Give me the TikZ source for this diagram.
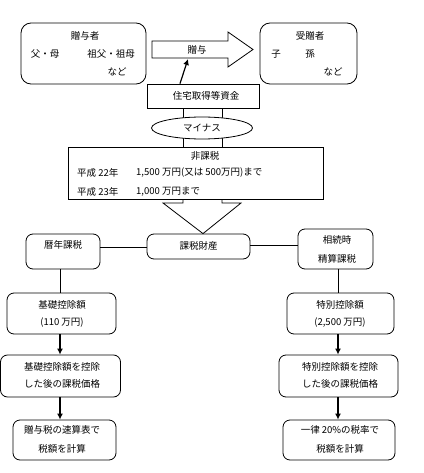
\documentclass[tikz,border=0pt]{standalone}
\usepackage{fontspec}
\setmainfont{Noto Sans CJK JP}
\usetikzlibrary{arrows.meta, shapes.geometric}

\tikzset{
  box/.style={draw, line width=0.8pt, rounded corners=7pt, inner sep=0pt},
  sqbox/.style={draw, line width=0.8pt, inner sep=0pt, fill=white},
  txt/.style={inner sep=0pt, font=\fontsize{9.5}{11}\selectfont},
  flow/.style={-{Latex[length=6pt,width=6pt]}, line width=1.6pt},
  link/.style={line width=0.8pt}
}

\begin{document}
\begin{tikzpicture}[x=1pt, y=-1pt]
  \useasboundingbox (0,0) rectangle (423,473);

  % donor and recipient
  \node[box, rounded corners=10pt, minimum width=125pt, minimum height=61pt] (donor) at (83.5,53.5) {};
  \node[txt] at (85,36) {贈与者};
  \node[txt] at (45,54) {父・母};
  \node[txt] at (111,54) {祖父・祖母};
  \node[txt] at (117,72) {など};

  \node[box, rounded corners=10pt, minimum width=97pt, minimum height=61pt] (donee) at (308.5,53.5) {};
  \node[txt] at (310,36) {受贈者};
  \node[txt] at (276,54) {子};
  \node[txt] at (310,54) {孫};
  \node[txt] at (333,72) {など};

  % gift arrow
  \draw[line width=0.8pt] (152,41) -- (228,41) -- (228,32) -- (253,49.5) -- (228,67) -- (228,58) -- (152,58) -- cycle;
  \node[txt] (gift) at (197,49.5) {贈与};
  \coordinate (giftin) at (188,59);

  % fund
  \node[sqbox, minimum width=112pt, minimum height=24pt] (fund) at (203,96) {};
  \node[txt] at (206,96) {住宅取得等資金};
  \draw[flow, line width=1.2pt] (fund.north -| 180,0) -- (giftin);

  % shaft through minus and nontax
  \draw[link] (fund.south -| 183,0) -- (183,147);
  \draw[link] (fund.south -| 222,0) -- (222,147);
  \node[draw, ellipse, line width=0.8pt, fill=white, minimum width=101pt, minimum height=22pt, inner sep=0pt] (minus) at (202,128) {};
  \node[txt] at (202,128) {マイナス};

  \node[sqbox, minimum width=255pt, minimum height=52pt] (nontax) at (195.5,173) {};
  \node[txt] at (205,156) {非課税};
  \node[txt, anchor=west] at (77,173) {平成 22年};
  \node[txt, anchor=west] at (136,173) {1,500 万円(又は 500万円)まで};
  \node[txt, anchor=west] at (77,192) {平成 23年};
  \node[txt, anchor=west] at (136,192) {1,000 万円まで};

  % taxable property
  \node[box, minimum width=103pt, minimum height=25pt] (taxable) at (198.5,246.5) {};
  \node[txt] at (198.5,246) {課税財産};
  \draw[link] (nontax.south -| 183,0) -- (183,203) -- (163,203) -- (taxable.north -| 203,0) -- (241,203) -- (222,203) -- (nontax.south -| 222,0);

  \node[box, minimum width=74pt, minimum height=35pt] (calendar) at (63,251.5) {};
  \node[txt] at (63,245) {暦年課税};
  \node[box, minimum width=75pt, minimum height=40pt] (settle) at (335.5,249) {};
  \node[txt] at (337,240) {相続時};
  \node[txt] at (337,259) {精算課税};
  \draw[link] (calendar.east |- 0,247) -- (taxable.west |- 0,247);
  \draw[link] (taxable.east |- 0,245) -- (settle.west |- 0,245);

  % left column
  \node[box, minimum width=109pt, minimum height=41pt] (basic) at (61.5,313.5) {};
  \node[txt] at (62,305) {基礎控除額};
  \node[txt] at (62,323) {(110 万円)};
  \node[box, minimum width=120pt, minimum height=42pt] (basicnet) at (60.5,376) {};
  \node[txt] at (62,367) {基礎控除額を控除};
  \node[txt] at (62,384) {した後の課税価格};
  \node[box, minimum width=103pt, minimum height=40pt] (basictax) at (64.5,440) {};
  \node[txt] at (62,430) {贈与税の速算表で};
  \node[txt] at (62,449) {税額を計算};
  \draw[link] (calendar.south -| 60,0) -- (basic.north -| 60,0);
  \draw[flow] (basic.south -| 60,0) -- (basicnet.north -| 60,0);
  \draw[flow] (basicnet.south -| 60,0) -- (basictax.north -| 60,0);

  % right column
  \node[box, minimum width=107pt, minimum height=41pt] (special) at (340.5,313.5) {};
  \node[txt] at (340,305) {特別控除額};
  \node[txt] at (340,323) {(2,500 万円)};
  \node[box, minimum width=119pt, minimum height=42pt] (specialnet) at (338.5,376) {};
  \node[txt] at (340,367) {特別控除額を控除};
  \node[txt] at (340,384) {した後の課税価格};
  \node[box, minimum width=112pt, minimum height=40pt] (specialtax) at (339,440) {};
  \node[txt] at (340,430) {一律 20\%の税率で};
  \node[txt] at (340,449) {税額を計算};
  \draw[link] (settle.south -| 338,0) -- (special.north -| 338,0);
  \draw[flow] (special.south -| 338,0) -- (specialnet.north -| 338,0);
  \draw[flow] (specialnet.south -| 338,0) -- (specialtax.north -| 338,0);
\end{tikzpicture}
\end{document}
